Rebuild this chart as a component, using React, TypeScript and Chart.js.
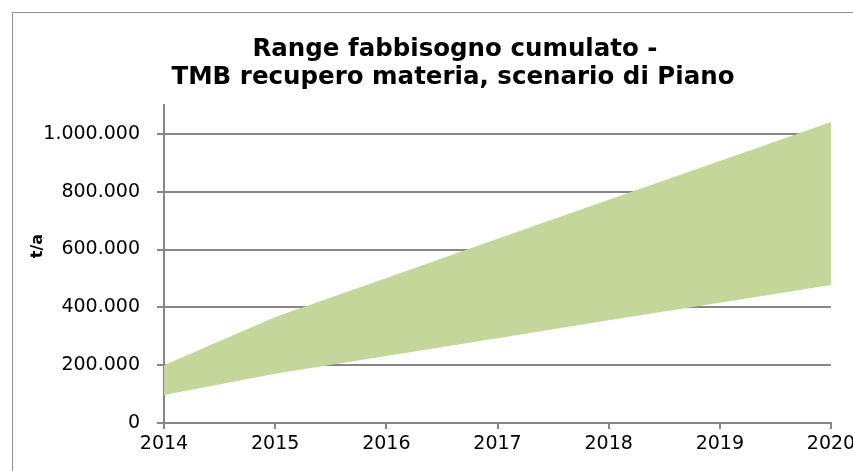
import React, { useEffect, useRef } from "react";
import { Chart, registerables } from "chart.js";

Chart.register(...registerables);

const years = ["2014", "2015", "2016", "2017", "2018", "2019", "2020"];
const lowerValues = [97000, 170000, 232000, 293000, 355000, 416000, 477000];
const upperValues = [200000, 367000, 502000, 637000, 772000, 906000, 1041000];
const yTickValues = [0, 200000, 400000, 600000, 800000, 1000000];
const titleLines = ["Range fabbisogno cumulato -", "TMB recupero materia, scenario di Piano"];
const yAxisTitle = "t/a";

const FONT = "'DejaVu Sans', sans-serif";
const GRID = "#868686";

function fmt(v: number): string {
  return String(Math.round(v)).replace(/\B(?=(\d{3})+(?!\d))/g, ".");
}

const decorPlugin = {
  id: "decor",
  afterDraw(chart: any) {
    const ctx = chart.ctx as CanvasRenderingContext2D;
    ctx.save();
    ctx.strokeStyle = "#8c8c8c";
    ctx.lineWidth = 1;
    ctx.beginPath();
    ctx.moveTo(12.5, 471);
    ctx.lineTo(12.5, 12.5);
    ctx.lineTo(853, 12.5);
    ctx.stroke();
    ctx.fillStyle = "#000";
    ctx.font = `bold 24.5px ${FONT}`;
    ctx.textAlign = "center";
    ctx.textBaseline = "alphabetic";
    ctx.fillText(titleLines[0], 455, 56);
    ctx.fillText(titleLines[1], 453, 84);
    ctx.translate(38, 246);
    ctx.rotate(-Math.PI / 2);
    ctx.font = `bold 16px ${FONT}`;
    ctx.textBaseline = "middle";
    ctx.fillText(yAxisTitle, 0, 0);
    ctx.restore();
  },
};

export default function App() {
  const ref = useRef<HTMLCanvasElement | null>(null);
  useEffect(() => {
    if (!ref.current) return;
    const chart = new Chart(ref.current, {
      type: "line",
      data: {
        labels: years,
        datasets: [
          {
            label: "min",
            data: lowerValues,
            borderWidth: 0,
            borderColor: "rgba(0,0,0,0)",
            pointRadius: 0,
            fill: false,
            tension: 0,
          },
          {
            label: "max",
            data: upperValues,
            borderWidth: 0,
            borderColor: "rgba(0,0,0,0)",
            backgroundColor: "#c4d79b",
            pointRadius: 0,
            fill: "-1",
            tension: 0,
          },
        ],
      },
      options: {
        animation: false,
        responsive: false,
        devicePixelRatio: 1,
        layout: { padding: { left: 0, top: 105, right: 22, bottom: 0 } },
        plugins: {
          legend: { display: false },
          title: { display: false },
          tooltip: { enabled: false },
        },
        scales: {
          x: {
            type: "category",
            offset: false,
            grid: {
              drawOnChartArea: false,
              drawTicks: true,
              tickLength: 6,
              color: GRID,
              lineWidth: 2,
            },
            border: { display: true, color: GRID, width: 2 },
            ticks: {
              color: "#000",
              font: { family: FONT, size: 19 },
              padding: 4,
              maxRotation: 0,
              autoSkip: false,
            },
            afterFit: (s: any) => {
              s.height = 48;
              s.paddingLeft = 0;
              s.paddingRight = 0;
            },
          },
          y: {
            min: 0,
            max: 1100000,
            ticks: {
              color: "#000",
              font: { family: FONT, size: 19 },
              padding: 17,
              callback: (v: any) => fmt(Number(v)),
            },
            afterBuildTicks: (s: any) => {
              s.ticks = yTickValues.map((v) => ({ value: v }));
            },
            grid: {
              color: GRID,
              drawTicks: true,
              tickLength: 7,
              lineWidth: 2,
            },
            border: { display: true, color: GRID, width: 2 },
            afterFit: (s: any) => {
              s.width = 164;
              s.paddingTop = 0;
              s.paddingBottom = 0;
            },
          },
        },
      },
      plugins: [decorPlugin],
    });
    return () => chart.destroy();
  }, []);
  return (
    <div style={{ position: "absolute", left: 0, top: 0, width: 853, height: 471, background: "#fff" }}>
      <canvas ref={ref} width={853} height={471} style={{ width: 853, height: 471 }} />
    </div>
  );
}
